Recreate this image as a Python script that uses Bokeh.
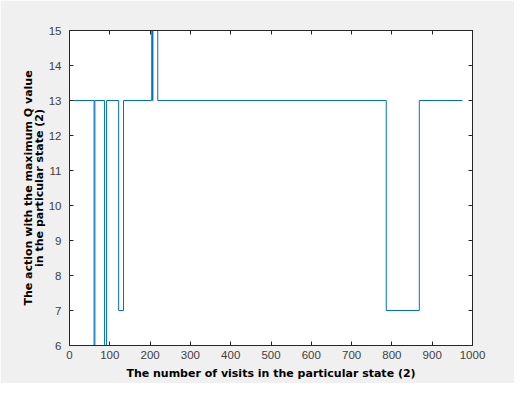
from bokeh.plotting import figure
from bokeh.models import LinearAxis, FixedTicker, Range1d
from bokeh.embed import file_html
from bokeh.resources import INLINE

# Change points of the step series (visit index, action with max Q)
visits = [1, 61, 63, 87, 92, 122, 134, 204, 206, 207, 219, 786, 868, 975]
actions = [13, 6, 13, 6, 13, 7, 13, 15, 13, 15, 13, 7, 13, 13]
x_ticks = list(range(0, 1001, 100))
y_ticks = list(range(6, 16))

AX = "#262626"
BG = "#f0f0f0"

p = figure(width=514, height=383, output_backend="svg", toolbar_location=None,
           x_range=Range1d(0, 1000), y_range=Range1d(6, 15),
           min_border_left=69, min_border_right=42, min_border_top=30,
           min_border_bottom=38, border_fill_color=BG,
           background_fill_color="white", outline_line_color=AX,
           x_axis_label="The number of visits in the particular state (2)",
           y_axis_label="The action with the maximum Q value\nin the particular state (2)")
p.grid.visible = False

p.step(visits, actions, mode="after", line_color="#0072BD", line_width=1)

p.add_layout(LinearAxis(), "right")
p.add_layout(LinearAxis(), "above")

for ax in p.xaxis:
    ax.ticker = FixedTicker(ticks=x_ticks)
for ax in p.yaxis:
    ax.ticker = FixedTicker(ticks=y_ticks)

for ax in p.axis:
    ax.axis_line_color = AX
    ax.major_tick_line_color = AX
    ax.major_tick_in = 4
    ax.major_tick_out = 0
    ax.minor_tick_line_color = None
    ax.major_label_text_font = "Liberation Sans"
    ax.major_label_text_font_size = "11.5px"
    ax.major_label_text_color = "#404040"
    ax.axis_label_text_font = "DejaVu Sans"
    ax.axis_label_text_font_style = "bold"
    ax.axis_label_text_font_size = "11px"
    ax.axis_label_text_color = "black"
    ax.axis_label_text_line_height = 0.82

p.xaxis[0].major_label_standoff = 8
p.xaxis[0].axis_label_standoff = 2
p.yaxis[0].major_label_standoff = 8
p.yaxis[0].axis_label_standoff = 0

# box-completing axes: ticks only, no labels
for ax in (p.right[0], p.above[0]):
    ax.major_label_text_font_size = "0px"
    ax.major_label_text_color = None
    ax.major_label_standoff = 0

open("out.html", "w").write(file_html(p, INLINE))
